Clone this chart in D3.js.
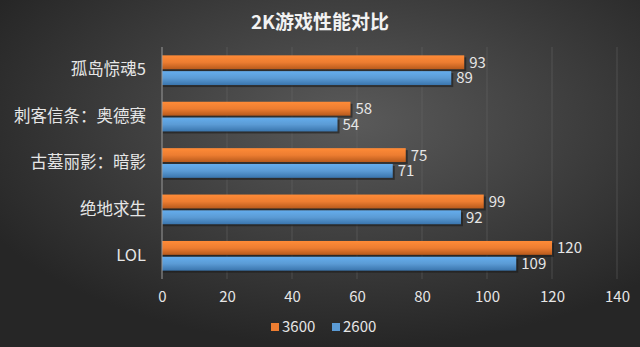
<!DOCTYPE html>
<html>
<head>
<meta charset="utf-8">
<script src="https://cdn.jsdelivr.net/npm/d3@7"></script>
<style>
  html, body { margin: 0; padding: 0; background: #3a3a3a; }
  svg { display: block; }
  text { font-family: "Noto Sans CJK SC", "Noto Sans", sans-serif; }
</style>
</head>
<body>
<svg id="chart" width="640" height="347"></svg>
<script>
var games = ['孤岛惊魂5', '刺客信条：奥德赛', '古墓丽影：暗影', '绝地求生', 'LOL']
var series = ['3600', '2600']
var fps3600 = [93, 58, 75, 99, 120]
var fps2600 = [89, 54, 71, 92, 109]
var xTicks = [0, 20, 40, 60, 80, 100, 120, 140]
var colors = { '3600': '#ed7d31', '2600': '#5b9bd5' }
var darker = { '3600': '#b85a1c', '2600': '#3a75ad' }

var width = 640
var height = 347
var svg = d3.select('#chart')

// background gradient, lighter in the middle
var defs = svg.append('defs')
var bg = defs.append('radialGradient')
    .attr('id', 'bg')
    .attr('cx', '55%').attr('cy', '35%').attr('r', '65%')
bg.append('stop').attr('offset', '0%').attr('stop-color', '#5a5a5a')
bg.append('stop').attr('offset', '100%').attr('stop-color', '#262626')

series.forEach(function(s) {
    var g = defs.append('linearGradient')
        .attr('id', 'bar' + s)
        .attr('x1', 0).attr('y1', 0).attr('x2', 0).attr('y2', 1)
    g.append('stop').attr('offset', '0%').attr('stop-color', d3.color(colors[s]).brighter(0.3))
    g.append('stop').attr('offset', '50%').attr('stop-color', colors[s])
    g.append('stop').attr('offset', '100%').attr('stop-color', darker[s])
})

svg.append('rect')
    .attr('width', width).attr('height', height)
    .attr('fill', 'url(#bg)')

svg.append('text')
    .attr('x', 320).attr('y', 29)
    .attr('text-anchor', 'middle')
    .attr('fill', '#f2f2f2')
    .attr('font-size', 19)
    .attr('font-weight', 'bold')
    .text('2K游戏性能对比')

var x = d3.scaleLinear().domain([0, 140]).range([162, 617])
var y = d3.scaleBand().domain(games).range([47, 279]).paddingInner(0.36).paddingOuter(0.18)
var sub = d3.scaleBand().domain(series).range([0, y.bandwidth()]).paddingInner(0.12)

// grid lines
svg.append('g')
    .selectAll('line')
    .data(xTicks.slice(1))
    .enter()
    .append('line')
    .attr('x1', d => x(d)).attr('x2', d => x(d))
    .attr('y1', 47).attr('y2', 279)
    .attr('stroke', '#6a6a6a')
    .attr('stroke-opacity', 0.5)
    .attr('stroke-width', 1)

var rows = games.map(function(g, i) {
    return { game: g, values: [{ s: '3600', v: fps3600[i] }, { s: '2600', v: fps2600[i] }] }
})

var groups = svg.append('g')
    .selectAll('g')
    .data(rows)
    .enter()
    .append('g')
    .attr('transform', d => 'translate(0,' + y(d.game) + ')')

// bar shadows
groups.selectAll('rect.shadow')
    .data(d => d.values)
    .enter()
    .append('rect')
    .attr('class', 'shadow')
    .attr('x', x(0) + 1)
    .attr('y', d => sub(d.s) + 2)
    .attr('width', d => x(d.v) - x(0) + 1)
    .attr('height', sub.bandwidth())
    .attr('fill', '#1a1a1a')
    .attr('opacity', 0.6)

groups.selectAll('rect.bar')
    .data(d => d.values)
    .enter()
    .append('rect')
    .attr('class', 'bar')
    .attr('x', x(0))
    .attr('y', d => sub(d.s))
    .attr('width', d => x(d.v) - x(0))
    .attr('height', sub.bandwidth())
    .attr('fill', d => 'url(#bar' + d.s + ')')

groups.selectAll('text.val')
    .data(d => d.values)
    .enter()
    .append('text')
    .attr('class', 'val')
    .attr('x', d => x(d.v) + 5)
    .attr('y', d => sub(d.s) + sub.bandwidth() / 2)
    .attr('dy', '.36em')
    .attr('fill', '#e6e6e6')
    .attr('font-size', 15)
    .text(d => d.v)

// axis line at zero
svg.append('line')
    .attr('x1', x(0)).attr('x2', x(0))
    .attr('y1', 47).attr('y2', 279)
    .attr('stroke', '#9a9a9a')
    .attr('stroke-width', 1)

// category axis
var yAxis = svg.append('g')
    .attr('transform', 'translate(' + (x(0) - 16) + ',0)')
    .call(d3.axisLeft(y).tickSize(0).tickPadding(0))
yAxis.select('.domain').remove()
yAxis.selectAll('text')
    .attr('fill', '#e6e6e6')
    .attr('font-size', 16.5)

// value axis
var xAxis = svg.append('g')
    .attr('transform', 'translate(0,291)')
    .call(d3.axisBottom(x).tickValues(xTicks).tickSize(0).tickPadding(0))
xAxis.select('.domain').remove()
xAxis.selectAll('text')
    .attr('fill', '#e6e6e6')
    .attr('font-size', 15)

// legend
var legend = svg.append('g')
    .selectAll('g')
    .data(series)
    .enter()
    .append('g')
    .attr('transform', (d, i) => 'translate(' + (271 + i * 61) + ',327)')
legend.append('rect')
    .attr('x', 0).attr('y', -4)
    .attr('width', 8).attr('height', 8)
    .attr('fill', d => colors[d])
legend.append('text')
    .attr('x', 11).attr('y', 0)
    .attr('dy', '.36em')
    .attr('fill', '#e6e6e6')
    .attr('font-size', 15)
    .text(d => d)
</script>
</body>
</html>
